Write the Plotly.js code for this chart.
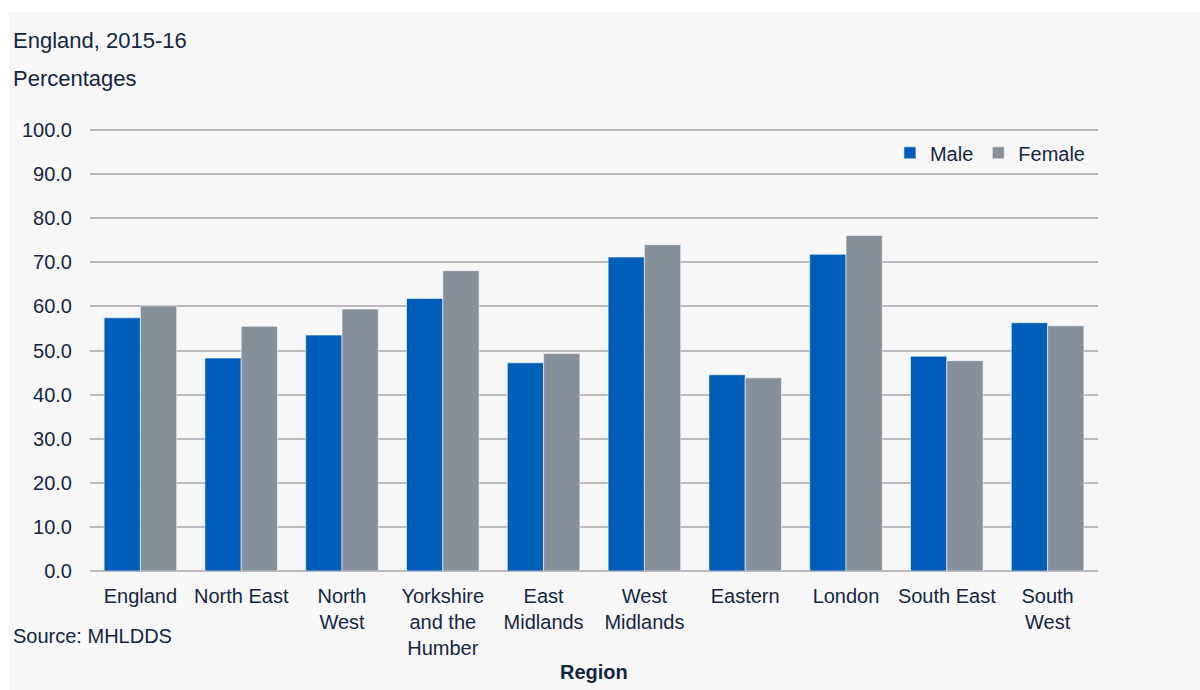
<!DOCTYPE html>
<html>
<head>
<meta charset="utf-8">
<script src="https://cdn.plot.ly/plotly-3.0.1.min.js"></script>
<style>
html,body{margin:0;padding:0;background:#ffffff;width:1200px;height:690px;overflow:hidden;}
#chart{position:absolute;left:9px;top:12px;width:1191px;height:678px;}
</style>
</head>
<body>
<div id="chart"></div>
<script>
const regions = ["England", "North East", "North<br>West", "Yorkshire<br>and the<br>Humber", "East<br>Midlands", "West<br>Midlands", "Eastern", "London", "South East", "South<br>West"];
const maleValues = [57.4, 48.3, 53.5, 61.8, 47.2, 71.2, 44.5, 71.8, 48.7, 56.3];
const femaleValues = [60.1, 55.5, 59.4, 68.1, 49.3, 74.0, 43.8, 76.1, 47.7, 55.6];
const yTickValues = [0, 10, 20, 30, 40, 50, 60, 70, 80, 90, 100];

const FONT = "Liberation Sans, Arial, sans-serif";
const TXT = "#14263f";

const traces = [
  {type: "bar", name: "Male", x: regions, y: maleValues,
   marker: {color: "#005eb8", line: {color: "rgba(255,255,255,0.55)", width: 1}},
   hoverinfo: "x+y+name"},
  {type: "bar", name: "Female", x: regions, y: femaleValues,
   marker: {color: "#86909b", line: {color: "rgba(255,255,255,0.55)", width: 1}},
   hoverinfo: "x+y+name"}
];

const layout = {
  width: 1191, height: 678,
  paper_bgcolor: "#f7f7f7", plot_bgcolor: "#f7f7f7",
  font: {family: FONT, size: 20, color: TXT},
  margin: {l: 81, r: 102, t: 117, b: 118.5, pad: 0},
  barmode: "group", bargap: 0.28, bargroupgap: 0,
  showlegend: true,
  legend: {orientation: "h", x: 0.993, xanchor: "right", y: 0.946, yanchor: "middle",
           bgcolor: "rgba(0,0,0,0)", font: {family: FONT, size: 20, color: TXT},
           itemwidth: 30, traceorder: "normal"},
  xaxis: {type: "category", showgrid: false, zeroline: false, showline: false,
          ticks: "", ticklabelstandoff: 11, tickfont: {family: FONT, size: 20, color: TXT}, tickangle: 0,
          automargin: false},
  yaxis: {range: [0, 100.23], tickvals: yTickValues, tickformat: ".1f",
          showgrid: true, gridcolor: "#bcb8bd", gridwidth: 1.5,
          zeroline: true, zerolinecolor: "#bcb8bd", zerolinewidth: 1.5,
          showline: false, ticks: "", ticklabelstandoff: 17,
          tickfont: {family: FONT, size: 20, color: TXT}, automargin: false},
  annotations: [
    {text: "England, 2015-16", xref: "paper", yref: "paper", x: -0.0784, y: 1.2012,
     xanchor: "left", yanchor: "middle", showarrow: false, font: {family: FONT, size: 22, color: TXT}},
    {text: "Percentages", xref: "paper", yref: "paper", x: -0.0784, y: 1.1153,
     xanchor: "left", yanchor: "middle", showarrow: false, font: {family: FONT, size: 22, color: TXT}},
    {text: "Source: MHLDDS", xref: "paper", yref: "paper", x: -0.0784, y: -0.1480,
     xanchor: "left", yanchor: "middle", showarrow: false, font: {family: FONT, size: 20, color: TXT}},
    {text: "<b>Region</b>", xref: "paper", yref: "paper", x: 0.5, y: -0.2294,
     xanchor: "center", yanchor: "middle", showarrow: false, font: {family: FONT, size: 20, color: TXT}}
  ]
};

Plotly.newPlot("chart", traces, layout, {displayModeBar: false, responsive: false});
</script>
</body>
</html>
